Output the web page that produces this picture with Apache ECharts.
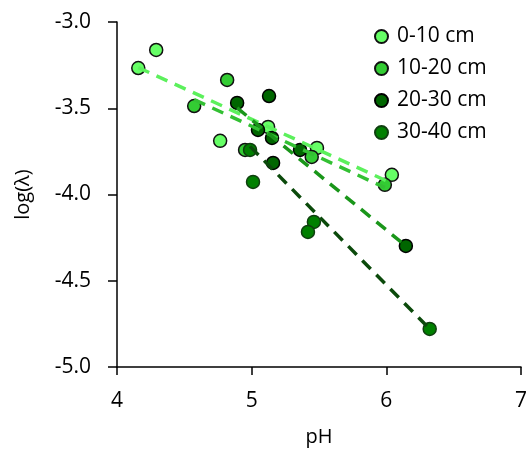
<!DOCTYPE html>
<html><head><meta charset="utf-8">
<script src="https://cdn.jsdelivr.net/npm/echarts@6/dist/echarts.min.js"></script>
<style>html,body{margin:0;padding:0;background:#fff}#c{width:526px;height:449px}</style>
</head><body><div id="c"></div>
<script>
const seriesNames = ['0-10 cm', '10-20 cm', '20-30 cm', '30-40 cm'];
const pH_0_10 = [4.158, 4.291, 4.766, 5.122, 5.485, 6.041];
const log_0_10 = [-3.267, -3.162, -3.689, -3.608, -3.730, -3.886];
const pH_10_20 = [4.573, 4.818, 4.951, 5.446, 5.989];
const log_10_20 = [-3.487, -3.336, -3.742, -3.782, -3.944];
const pH_20_30 = [4.892, 5.129, 5.047, 5.151, 5.159, 5.359, 6.145];
const log_20_30 = [-3.469, -3.429, -3.626, -3.672, -3.817, -3.742, -4.298];
const pH_30_40 = [4.988, 5.010, 5.462, 5.418, 6.322];
const log_30_40 = [-3.742, -3.927, -4.159, -4.217, -4.779];
// trend line endpoints [pH start, pH end], [log start, log end]
const trendX_0_10 = [4.158, 6.041], trendY_0_10 = [-3.264, -3.935];
const trendX_10_20 = [4.573, 5.989], trendY_10_20 = [-3.450, -3.960];
const trendX_20_30 = [4.892, 6.145], trendY_20_30 = [-3.498, -4.298];
const trendX_30_40 = [4.988, 6.322], trendY_30_40 = [-3.721, -4.779];
const xTicks = [4, 5, 6, 7];
const yTicks = [-5.0, -4.5, -4.0, -3.5, -3.0];

const xs = [pH_0_10, pH_10_20, pH_20_30, pH_30_40];
const ys = [log_0_10, log_10_20, log_20_30, log_30_40];
const txs = [trendX_0_10, trendX_10_20, trendX_20_30, trendX_30_40];
const tys = [trendY_0_10, trendY_10_20, trendY_20_30, trendY_30_40];
const fill = ['#66ff66', '#33cc33', '#006600', '#008000'];
const border = ['#111', '#111', '#000', '#0f3f0f'];
const lineCol = ['#5cf05c', '#33c033', '#1a961a', '#0b4a0b'];
const font = 'Open Sans';

const series = [];
for (let i = 0; i < 4; i++) {
  series.push({
    name: seriesNames[i], type: 'scatter', symbol: 'circle', symbolSize: 13, z: 2,
    itemStyle: { color: fill[i], borderColor: border[i], borderWidth: 1.5, opacity: 1 },
    data: xs[i].map((x, j) => [x, ys[i][j]])
  });
}
for (let i = 0; i < 4; i++) {
  series.push({
    name: 'trend' + i, type: 'line', showSymbol: false, symbol: 'none', z: 3, silent: true,
    lineStyle: { color: lineCol[i], width: 3.5, type: [12, 8], cap: 'butt' },
    data: txs[i].map((x, j) => [x, tys[i][j]])
  });
}

const chart = echarts.init(document.getElementById('c'), null, { renderer: 'canvas' });
chart.setOption({
  animation: false,
  backgroundColor: '#fff',
  grid: { left: 117, right: 5, top: 22, bottom: 82, outerBoundsMode: 'none', containLabel: false },
  legend: {
    data: seriesNames, orient: 'vertical', left: 369, top: 21,
    itemWidth: 13, itemHeight: 13, itemGap: 11, icon: 'circle',
    textStyle: { fontFamily: font, fontSize: 21, color: '#000', padding: [0, 0, 0, 4] }
  },
  xAxis: {
    type: 'value', min: xTicks[0], max: xTicks[xTicks.length - 1], interval: 1,
    name: 'pH', nameLocation: 'middle', nameGap: 60,
    nameTextStyle: { fontFamily: font, fontSize: 20, color: '#000' },
    axisLine: { lineStyle: { color: '#000', width: 1.5 } },
    axisTick: { show: true, length: 8, lineStyle: { color: '#000', width: 1.5 } },
    axisLabel: { fontFamily: font, fontSize: 21, color: '#000', margin: 24 },
    splitLine: { show: false }
  },
  yAxis: {
    type: 'value', min: yTicks[0], max: yTicks[yTicks.length - 1], interval: 0.5,
    name: 'log(λ)', nameLocation: 'middle', nameGap: 84, nameRotate: 90,
    nameTextStyle: { fontFamily: font, fontSize: 20, color: '#000' },
    axisLine: { show: true, lineStyle: { color: '#000', width: 1.5 } },
    axisTick: { show: true, length: 9, lineStyle: { color: '#000', width: 1.5 } },
    axisLabel: { fontFamily: font, fontSize: 21, color: '#000', margin: 26, formatter: v => v.toFixed(1) },
    splitLine: { show: false }
  },
  series: series
});
</script></body></html>
